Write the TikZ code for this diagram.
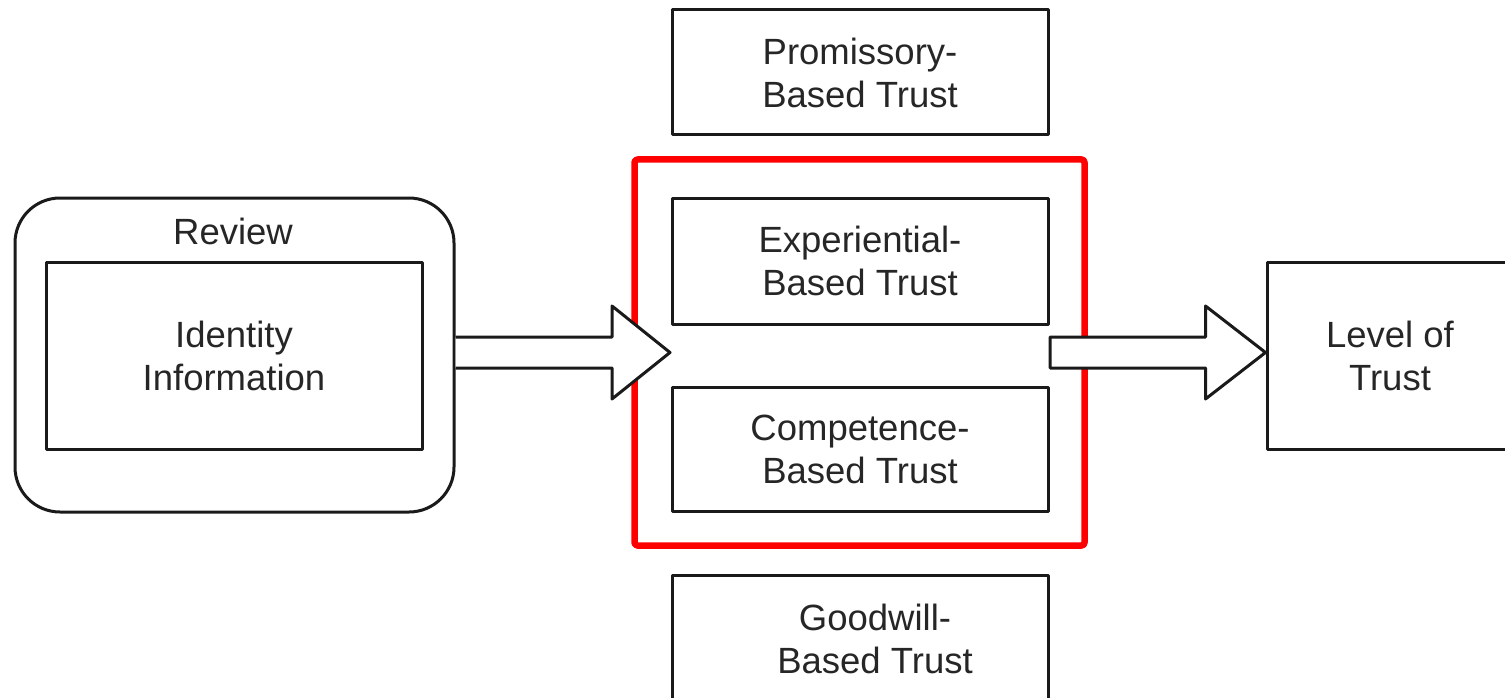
\documentclass[tikz,border=0pt]{standalone}
\usepackage{fontspec}
\setmainfont{Liberation Sans}
\usetikzlibrary{calc}
\definecolor{linec}{HTML}{1A1A1A}
\definecolor{textc}{HTML}{262626}
\definecolor{framered}{HTML}{FF0000}
\begin{document}
\begin{tikzpicture}[x=1pt,y=-1pt,line join=round,
  box/.style={draw=linec,line width=3pt,rectangle,inner sep=0pt},
  lbl/.style={text=textc,font=\fontsize{36.5}{43}\selectfont,align=center},
  blockarrow/.style={draw=linec,line width=3pt,fill=white,line join=round}]
\useasboundingbox (0,0) rectangle (1505,698);
\clip (0,0) rectangle (1505,698);
% grouping frame
\node[draw=framered,line width=6.5pt,rounded corners=3pt,minimum width=450pt,minimum height=386pt,inner sep=0pt] (group) at (859.5,352.5) {};
% review container
\node[box,rounded corners=45pt,minimum width=439pt,minimum height=314pt] (review) at (234.5,355) {};
\node[lbl] (reviewlbl) at (233,231) {Review};
\node[box,lbl,minimum width=376pt,minimum height=187pt] (ident) at (234,355.5) {Identity\\Information};
% trust types
\node[box,lbl,minimum width=376pt,minimum height=125pt] (prom) at (860,72.5) {Promissory-\\Based Trust};
\node[box,lbl,minimum width=376pt,minimum height=126pt] (exp) at (860,261) {Experiential-\\Based Trust};
\node[box,lbl,minimum width=376pt,minimum height=124pt] (comp) at (860,449) {Competence-\\Based Trust};
\node[box,minimum width=376pt,minimum height=190pt] (good) at (860,670) {};
\node[lbl] (goodlbl) at (875,639) {Goodwill-\\Based Trust};
% level of trust
\node[box,minimum width=300pt,minimum height=187pt] (level) at (1417,355.5) {};
\node[lbl] (levellbl) at (1390,356) {Level of\\Trust};
% arrows
\coordinate (a1s) at (review.east |- 0,352.5);
\coordinate (a1t) at (670,352.5);
\coordinate (a2s) at (1050,352.5);
\coordinate (a2t) at (level.west |- 0,352.5);
\draw[blockarrow] ($(a1s)+(0,-15.5)$) -- ($(a1t)+(-58,-15.5)$) -- ($(a1t)+(-58,-46.5)$) -- (a1t) -- ($(a1t)+(-58,46.5)$) -- ($(a1t)+(-58,15.5)$) -- ($(a1s)+(0,15.5)$);
\draw[blockarrow] ($(a2s)+(0,-15.5)$) -- ($(a2t)+(-60,-15.5)$) -- ($(a2t)+(-60,-46.5)$) -- (a2t) -- ($(a2t)+(-60,46.5)$) -- ($(a2t)+(-60,15.5)$) -- ($(a2s)+(0,15.5)$) -- cycle;
\end{tikzpicture}
\end{document}
